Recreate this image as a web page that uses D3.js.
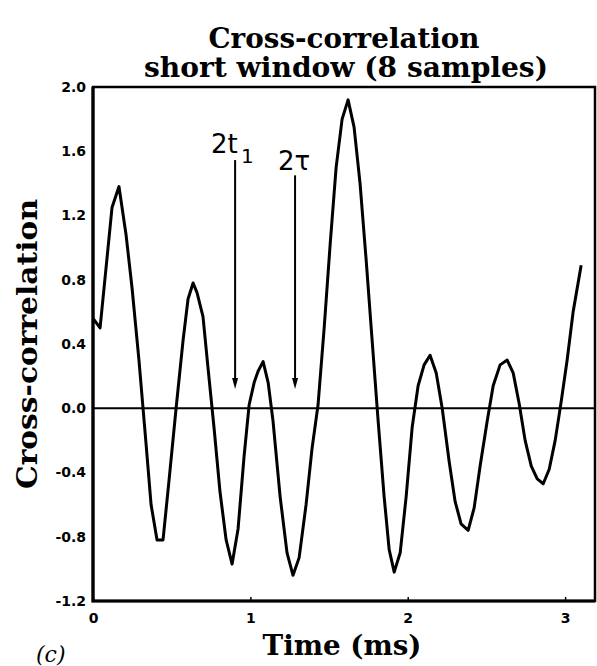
<!DOCTYPE html>
<html>
<head>
<meta charset="utf-8">
<script src="https://cdn.jsdelivr.net/npm/d3@7"></script>
<style>
  body { margin: 0; background: #fff; }
  svg { display: block; }
</style>
</head>
<body>
<svg id="chart"></svg>
<script>
var times = [0.000, 0.045, 0.121, 0.165, 0.210, 0.248, 0.292, 0.337, 0.369, 0.407,
  0.445, 0.483, 0.528, 0.572, 0.604, 0.636, 0.661, 0.699, 0.731, 0.769,
  0.807, 0.846, 0.884, 0.922, 0.960, 0.992, 1.024, 1.049, 1.081, 1.113,
  1.144, 1.189, 1.233, 1.271, 1.310, 1.354, 1.392, 1.430, 1.469, 1.507,
  1.545, 1.583, 1.621, 1.659, 1.697, 1.736, 1.774, 1.812, 1.850, 1.882,
  1.914, 1.952, 1.990, 2.028, 2.066, 2.104, 2.142, 2.181, 2.219, 2.263,
  2.301, 2.339, 2.384, 2.422, 2.460, 2.505, 2.543, 2.587, 2.632, 2.670,
  2.708, 2.746, 2.785, 2.823, 2.861, 2.899, 2.937, 2.975, 3.013, 3.051, 3.102]

var values = [0.56, 0.50, 1.25, 1.38, 1.08, 0.75, 0.30, -0.22, -0.60, -0.82,
  -0.82, -0.45, 0.00, 0.42, 0.68, 0.78, 0.72, 0.57, 0.25, -0.12,
  -0.52, -0.82, -0.97, -0.75, -0.30, 0.02, 0.16, 0.23, 0.29, 0.16,
  -0.08, -0.55, -0.90, -1.04, -0.93, -0.60, -0.25, 0.02, 0.50, 1.02,
  1.50, 1.80, 1.92, 1.75, 1.40, 0.92, 0.42, -0.08, -0.55, -0.88,
  -1.02, -0.90, -0.55, -0.12, 0.14, 0.27, 0.33, 0.22, 0.00, -0.33,
  -0.58, -0.72, -0.76, -0.62, -0.36, -0.08, 0.14, 0.27, 0.30, 0.22,
  0.03, -0.20, -0.36, -0.44, -0.47, -0.38, -0.20, 0.04, 0.30, 0.60, 0.89]

var xTicks = [0, 1, 2, 3]
var yTicks = [-1.2, -0.8, -0.4, 0.0, 0.4, 0.8, 1.2, 1.6, 2.0]

// annotation arrows (2t1 and 2tau)
var arrowTimes = [0.903, 1.284]
var arrowTops = [1.545, 1.45]
var arrowTip = 0.12

var width = 597,
  height = 666,
  padding = { top: 87, right: 2, bottom: 65, left: 93 }

var serif = "'DejaVu Serif', serif",
  sans = "'DejaVu Sans', sans-serif"

var svg = d3.select("#chart")
  .attr("width", width)
  .attr("height", height)

var x = d3.scaleLinear()
  .domain([0, 3.19])
  .range([padding.left, width - padding.right])

var y = d3.scaleLinear()
  .domain([-1.2, 2.0])
  .range([height - padding.bottom, padding.top])

// axes: labels only, frame is drawn separately
var xAxis = d3.axisBottom(x)
  .tickValues(xTicks)
  .tickSize(-4)
  .tickPadding(12)
  .tickFormat(function (d) { return d })

var yAxis = d3.axisLeft(y)
  .tickValues(yTicks)
  .tickSize(0)
  .tickPadding(7)
  .tickFormat(function (d) { return d.toFixed(1) })

var gx = svg.append("g")
  .attr("transform", "translate(0," + (height - padding.bottom) + ")")
  .call(xAxis)

var gy = svg.append("g")
  .attr("transform", "translate(" + padding.left + ",0)")
  .call(yAxis)

svg.selectAll(".domain").remove()
svg.selectAll(".tick line").attr("stroke", "#000").attr("stroke-width", 1.5)
svg.selectAll(".tick text")
  .attr("fill", "#000")
  .style("font-family", sans)
  .style("font-weight", "bold")
  .style("font-size", "14px")

// frame
svg.append("rect")
  .attr("x", x(0))
  .attr("y", y(2.0))
  .attr("width", x(3.19) - x(0))
  .attr("height", y(-1.2) - y(2.0))
  .attr("fill", "none")
  .attr("stroke", "#000")
  .attr("stroke-width", 2.5)

// heavier left and bottom edges
svg.append("path")
  .attr("d", "M" + x(0) + "," + y(2.0) + "V" + y(-1.2) + "H" + x(3.19))
  .attr("fill", "none")
  .attr("stroke", "#000")
  .attr("stroke-width", 3.2)

// zero line
svg.append("line")
  .attr("x1", x(0))
  .attr("x2", x(3.19))
  .attr("y1", y(0))
  .attr("y2", y(0))
  .attr("stroke", "#000")
  .attr("stroke-width", 2)

var line = d3.line()
  .x(function (d, i) { return x(times[i]) })
  .y(function (d) { return y(d) })

svg.append("path")
  .datum(values)
  .attr("d", line)
  .attr("fill", "none")
  .attr("stroke", "#000")
  .attr("stroke-width", 3)
  .attr("stroke-linejoin", "round")

// arrows
arrowTimes.forEach(function (t, i) {
  var ax = x(t)
  svg.append("line")
    .attr("x1", ax).attr("x2", ax)
    .attr("y1", y(arrowTops[i]))
    .attr("y2", y(arrowTip) - 8)
    .attr("stroke", "#000")
    .attr("stroke-width", 2)
  svg.append("path")
    .attr("d", "M" + (ax - 3) + "," + (y(arrowTip) - 11) +
      "L" + (ax + 3) + "," + (y(arrowTip) - 11) +
      "L" + ax + "," + y(arrowTip) + "Z")
    .attr("fill", "#000")
})

// arrow labels
var lab1 = svg.append("text")
  .attr("x", 211)
  .attr("y", 153)
  .style("font-family", sans)
  .style("font-size", "26px")
  .attr("fill", "#000")
lab1.append("tspan").text("2t")
lab1.append("tspan")
  .attr("x", 241)
  .attr("y", 163)
  .style("font-size", "20px")
  .text("1")

svg.append("text")
  .attr("x", 278)
  .attr("y", 170)
  .style("font-family", sans)
  .style("font-size", "26px")
  .attr("fill", "#000")
  .text("2\u03C4")

// titles
svg.append("text")
  .attr("x", 344)
  .attr("y", 48)
  .attr("text-anchor", "middle")
  .attr("textLength", 271)
  .attr("lengthAdjust", "spacingAndGlyphs")
  .style("font-family", serif)
  .style("font-weight", "bold")
  .style("font-size", "27px")
  .text("Cross-correlation")

svg.append("text")
  .attr("x", 346)
  .attr("y", 77)
  .attr("text-anchor", "middle")
  .attr("textLength", 404)
  .attr("lengthAdjust", "spacingAndGlyphs")
  .style("font-family", serif)
  .style("font-weight", "bold")
  .style("font-size", "27px")
  .text("short window (8 samples)")

svg.append("text")
  .attr("x", 342)
  .attr("y", 655)
  .attr("text-anchor", "middle")
  .attr("textLength", 159)
  .attr("lengthAdjust", "spacingAndGlyphs")
  .style("font-family", serif)
  .style("font-weight", "bold")
  .style("font-size", "27px")
  .text("Time (ms)")

svg.append("text")
  .attr("transform", "translate(37," + ((y(2.0) + y(-1.2)) / 2) + ") rotate(-90)")
  .attr("text-anchor", "middle")
  .attr("textLength", 290)
  .attr("lengthAdjust", "spacingAndGlyphs")
  .style("font-family", serif)
  .style("font-weight", "bold")
  .style("font-size", "27px")
  .text("Cross-correlation")

// panel letter
svg.append("text")
  .attr("x", 36)
  .attr("y", 662)
  .style("font-family", serif)
  .style("font-style", "italic")
  .style("font-size", "22px")
  .text("(c)")
</script>
</body>
</html>
